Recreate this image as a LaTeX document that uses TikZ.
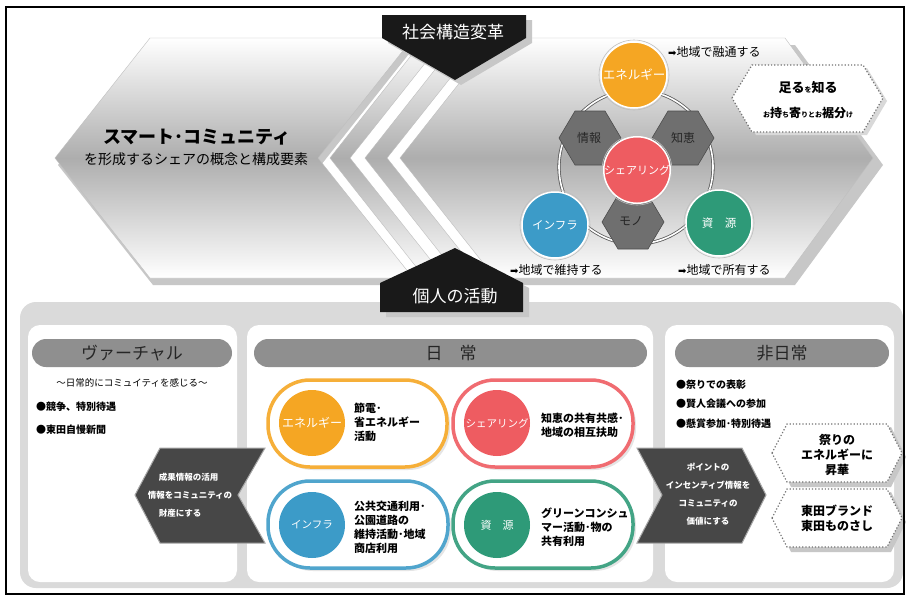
\documentclass[tikz,border=0pt]{standalone}
\usepackage{fontspec}
\setmainfont{Noto Sans CJK JP}
\newfontfamily\arrowfont{DejaVu Sans}
\definecolor{cOrange}{HTML}{F5A623}
\definecolor{cRed}{HTML}{EE5C61}
\definecolor{cBlue}{HTML}{3C9BC8}
\definecolor{cGreen}{HTML}{2E9A78}
\definecolor{cHex}{HTML}{6F6F6F}
\definecolor{cHead}{HTML}{8F8F8F}
\definecolor{cDark}{HTML}{474747}
\definecolor{cBack}{HTML}{DADADA}
\begin{document}
\begin{tikzpicture}[x=1pt,y=-1pt,
  every node/.style={inner sep=0pt},
  chev/.style={top color=white, bottom color=white, middle color=black!32, draw=black!25, line width=0.4pt},
  shade/.style={fill=black!22},
  blk/.style={fill=black!90},
  hexsty/.style={fill=cHex, draw=black!70, line width=0.6pt},
  bigcirc/.style={circle, draw=white, line width=1.5pt, minimum size=66pt, text=white},
  ringout/.style={draw=black!25, line width=0.6pt},
  pill/.style={line width=3.5pt, fill=white, rounded corners=42pt},
  pillshadow/.style={fill=black!10, rounded corners=42pt},
  pillcirc/.style={circle, minimum size=66pt, text=white},
  pilltext/.style={anchor=west, align=left, font=\fontsize{11}{14}\selectfont\bfseries},
  head/.style={fill=cHead, rounded corners=14pt},
  headtext/.style={text=black!85, font=\fontsize{17}{17}\selectfont},
  panel/.style={fill=white, rounded corners=12pt},
  darrow/.style={fill=cDark, draw=black!35, line width=1pt},
  darrowtext/.style={text=white, font=\fontsize{8.5}{18}\selectfont\bfseries},
  dothex/.style={fill=white, draw=black!55, dotted, line width=1.2pt},
  bullet/.style={anchor=west, font=\fontsize{10}{10}\selectfont\bfseries},
  note/.style={anchor=west, font=\fontsize{12}{12}\selectfont}
]
\useasboundingbox (0,0) rectangle (908,598);
\fill[white] (0,0) rectangle (908,598);

% ---------------- bottom area ----------------
\fill[cBack, rounded corners=16pt] (20,302) rectangle (903,588);
\fill[panel] (28,325) rectangle (237,582);
\fill[panel] (247,325) rectangle (653,582);
\fill[panel] (665,325) rectangle (894,582);

\fill[head] (32,339) rectangle (232,367);
\fill[head] (254,339) rectangle (647,367);
\fill[head] (675,339) rectangle (889,367);
\node[headtext] (hv) at (132,353) {ヴァーチャル};
\node[headtext] (hn) at (451,353) {日　常};
\node[headtext] (hh) at (782,353) {非日常};

% virtual texts
\node[font=\fontsize{9.5}{9.5}\selectfont] (vsub) at (132,383) {～日常的にコミュイティを感じる～};
\node[bullet] (vb1) at (36,407) {●競争、特別待遇};
\node[bullet] (vb2) at (36,430) {●東田自慢新聞};

% non-daily texts
\node[bullet] (nb1) at (676,385) {●祭りでの表彰};
\node[bullet] (nb2) at (676,404) {●賢人会議への参加};
\node[bullet] (nb3) at (676,424) {●懸賞参加･特別待遇};

% pills
\fill[pillshadow] (271,383) rectangle (450,470);
\fill[pillshadow] (456,383) rectangle (636,470);
\fill[pillshadow] (271,484) rectangle (451,571);
\fill[pillshadow] (456,484) rectangle (636,571);
\draw[pill, draw=cOrange!90] (268,380) rectangle (447,467);
\draw[pill, draw=cRed!90] (453,380) rectangle (633,467);
\draw[pill, draw=cBlue!90] (268,481) rectangle (448,568);
\draw[pill, draw=cGreen!90] (453,481) rectangle (633,568);

\node[pillcirc, fill=cOrange, font=\fontsize{12}{12}\selectfont] (pe) at (312,423) {エネルギー};
\node[pillcirc, fill=cRed, font=\fontsize{10.5}{10.5}\selectfont] (ps) at (497,423) {シェアリング};
\node[pillcirc, fill=cBlue, font=\fontsize{10.5}{10.5}\selectfont] (pi) at (312,525) {インフラ};
\node[pillcirc, fill=cGreen, font=\fontsize{11}{11}\selectfont] (pr) at (497,525) {資　源};

\node[pilltext] (te) at (354,422) {節電･\\省エネルギー\\活動};
\node[pilltext] (ts) at (541,425) {知恵の共有共感･\\地域の相互扶助};
\node[pilltext] (ti) at (354,527) {公共交通利用･\\公園道路の\\維持活動･地域\\商店利用};
\node[pilltext] (tr) at (541,527) {グリーンコンシュ\\マー活動･物の\\共有利用};

% dark arrows
\draw[darrow] (160,448) -- (265,448) -- (238,495) -- (265,543) -- (160,543) -- (135,495) -- cycle;
\node[darrowtext, align=left] (al) at (190,495) {\hspace*{11pt}成果情報の活用\\情報をコミュニティの\\\hspace*{11pt}財産にする};
\draw[darrow] (637,448) -- (742,448) -- (766,495) -- (742,543) -- (637,543) -- (662,495) -- cycle;
\node[darrowtext, align=center] (ar) at (708,494) {ポイントの\\インセンティブ情報を\\コミュニティの\\価値にする};

% dotted hexes (non-daily)
\fill[black!22] (776,457) -- (791,427) -- (891,427) -- (906,457) -- (891,487) -- (791,487) -- cycle;
\draw[dothex] (772,453) -- (787,424) -- (887,424) -- (902,453) -- (887,482) -- (787,482) -- cycle;
\node[align=center, font=\fontsize{12}{15}\selectfont\bfseries] (m1) at (837,455) {祭りの\\エネルギーに\\昇華};
\fill[black!22] (776,522) -- (791,492) -- (891,492) -- (906,522) -- (891,552) -- (791,552) -- cycle;
\draw[dothex] (772,518) -- (787,489) -- (887,489) -- (902,518) -- (887,547) -- (787,547) -- cycle;
\node[align=center, font=\fontsize{12}{15}\selectfont\bfseries] (m2) at (837,518) {東田ブランド\\東田ものさし};

% ---------------- top area ----------------
\fill[shade, shift={(3,7)}] (150,38) -- (413,38) -- (318,158) -- (413,278) -- (150,278) -- (55,158) -- cycle;
\fill[shade, shift={(10,7)}] (495,38) -- (785,38) -- (873,158) -- (785,278) -- (495,278) -- (400,158) -- cycle;
\path[chev] (150,38) -- (413,38) -- (318,158) -- (413,278) -- (150,278) -- (55,158) -- cycle;
\path[chev] (425,38) -- (445,38) -- (350,158) -- (445,278) -- (425,278) -- (330,158) -- cycle;
\path[chev] (460,38) -- (482,38) -- (387,158) -- (482,278) -- (460,278) -- (365,158) -- cycle;
\path[chev] (495,38) -- (785,38) -- (873,158) -- (785,278) -- (495,278) -- (400,158) -- cycle;

\node[font=\fontsize{18}{18}\selectfont\bfseries] (title) at (197,137) {スマート･コミュニティ};
\node[font=\fontsize{14}{14}\selectfont] (sub) at (196,159) {を形成するシェアの概念と構成要素};

% labels black
\fill[shade, shift={(6,5)}] (382,15) -- (526,15) -- (526,38) -- (455,80) -- (382,38) -- cycle;
\fill[blk] (382,15) -- (526,15) -- (526,38) -- (455,80) -- (382,38) -- cycle;
\node[text=white, font=\fontsize{17}{17}\selectfont] (shakai) at (453,32) {社会構造変革};
\fill[shade, shift={(6,5)}] (380,312) -- (523,312) -- (523,283) -- (455,248) -- (380,283) -- cycle;
\fill[blk] (380,312) -- (523,312) -- (523,283) -- (455,248) -- (380,283) -- cycle;
\node[text=white, font=\fontsize{17}{17}\selectfont] (kojin) at (455,296) {個人の活動};

% cycle
\draw[draw=black!65, double=white, double distance=1.6pt, line width=0.8pt] (636,167) circle[radius=77];
\draw[hexsty, shift={(590,138)}] (-31,0) -- (-15,-27) -- (15,-27) -- (31,0) -- (15,27) -- (-15,27) -- cycle;
\draw[hexsty, shift={(683,138)}] (-31,0) -- (-15,-27) -- (15,-27) -- (31,0) -- (15,27) -- (-15,27) -- cycle;
\draw[hexsty, shift={(633,222)}] (-31,0) -- (-15,-27) -- (15,-27) -- (31,0) -- (15,27) -- (-15,27) -- cycle;
\node[font=\fontsize{12}{12}\selectfont, text=black!85] (joho) at (589,138) {情報};
\node[font=\fontsize{12}{12}\selectfont, text=black!85] (chie) at (683,138) {知恵};
\node[font=\fontsize{12}{12}\selectfont, text=black!85] (mono) at (631,221) {モノ};

\draw[ringout] (634,75) circle[radius=35];
\draw[ringout] (637,170) circle[radius=35];
\draw[ringout] (555,225) circle[radius=35];
\draw[ringout] (719,223) circle[radius=35];
\node[bigcirc, fill=cOrange, font=\fontsize{12.5}{12.5}\selectfont] (ene) at (634,75) {エネルギー};
\node[bigcirc, fill=cRed, font=\fontsize{11}{11}\selectfont] (shr) at (637,170) {シェアリング};
\node[bigcirc, fill=cBlue, font=\fontsize{11.5}{11.5}\selectfont] (inf) at (555,225) {インフラ};
\node[bigcirc, fill=cGreen, font=\fontsize{11.5}{11.5}\selectfont] (res) at (719,223) {資　源};

\node[note] (n1) at (668,52) {{\arrowfont\fontsize{10}{10}\selectfont ➡}地域で融通する};
\node[note] (n2) at (510,270) {{\arrowfont\fontsize{10}{10}\selectfont ➡}地域で維持する};
\node[note] (n3) at (678,270) {{\arrowfont\fontsize{10}{10}\selectfont ➡}地域で所有する};

% top dotted hex
\fill[black!15] (736,101) -- (756,68) -- (867,68) -- (887,101) -- (867,135) -- (756,135) -- cycle;
\draw[dothex] (732,98) -- (752,65) -- (863,65) -- (883,98) -- (863,132) -- (752,132) -- cycle;
\node[font=\bfseries] (taru) at (808,88) {{\fontsize{13}{13}\selectfont 足る}{\fontsize{7}{7}\selectfont を}{\fontsize{13}{13}\selectfont 知る}};
\node[font=\bfseries] (mochi) at (808,113) {{\fontsize{7}{7}\selectfont お}{\fontsize{12}{12}\selectfont 持}{\fontsize{7}{7}\selectfont ち}{\fontsize{12}{12}\selectfont 寄}{\fontsize{7}{7}\selectfont りとお}{\fontsize{12}{12}\selectfont 裾分}{\fontsize{7}{7}\selectfont け}};

% frame
\draw[black, line width=2pt] (6,7) rectangle (904,594);
\end{tikzpicture}
\end{document}
